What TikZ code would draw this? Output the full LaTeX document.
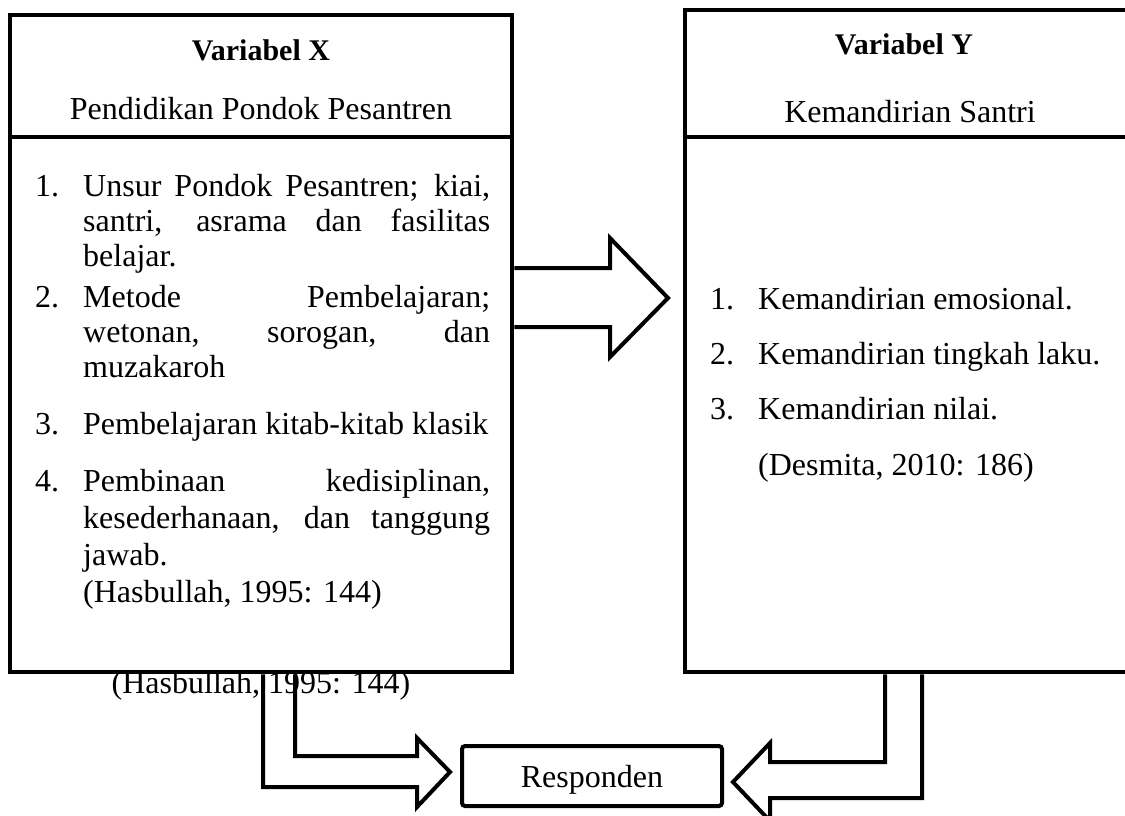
\documentclass[tikz,border=0pt]{standalone}
\usepackage{fontspec}
\setmainfont{Liberation Serif}
\newcommand{\jl}[1]{\makebox[407pt][s]{#1}}

\begin{document}
\begin{tikzpicture}[x=1pt,y=-1pt]
    % Style definitions
    \tikzset{box/.style={rectangle, draw=black, line width=4.5pt, fill=white, inner sep=0pt},
             txt/.style={anchor=base west, inner sep=0pt, font=\fontsize{32}{38}\selectfont},
             head/.style={anchor=base, inner sep=0pt, font=\fontsize{30}{36}\selectfont\bfseries}}
    \tikzstyle{blockarrow} = [draw=black, line width=4pt, line join=miter]
    \useasboundingbox (0,0) rectangle (1125,816);

    % Citation under the left box (partly hidden by it)
    \node (citeB) [txt, anchor=base] at (261,693) {(Hasbullah, 1995: 144)};

    % Main boxes
    \node (boxX) [box, minimum width=502pt, minimum height=657pt] at (261,343.5) {};
    \node (boxY) [box, minimum width=444pt, minimum height=662pt] at (907,341) {};
    \draw [line width=4.5pt] (boxX.west |- 0,137) -- (boxX.east |- 0,137);
    \draw [line width=4.5pt] (boxY.west |- 0,137) -- (boxY.east |- 0,137);

    % Headers
    \node (varX) [head] at (261,61) {Variabel X};
    \node (subX) [txt, anchor=base] at (261,119) {Pendidikan Pondok Pesantren};
    \node (varY) [head] at (904,55) {Variabel Y};
    \node (subY) [txt, anchor=base] at (910,122) {Kemandirian Santri};

    % Indicators of X
    \node (nx1) [txt] at (35,196) {1.};
    \node (x1a) [txt] at (83,196) {\jl{Unsur Pondok Pesantren; kiai,}};
    \node (x1b) [txt] at (83,231) {\jl{santri, asrama dan fasilitas}};
    \node (x1c) [txt] at (83,266) {belajar.};
    \node (nx2) [txt] at (35,307) {2.};
    \node (x2a) [txt] at (83,307) {\jl{Metode Pembelajaran;}};
    \node (x2b) [txt] at (83,342) {\jl{wetonan, sorogan, dan}};
    \node (x2c) [txt] at (83,377) {muzakaroh};
    \node (nx3) [txt] at (35,434) {3.};
    \node (x3a) [txt] at (83,434) {Pembelajaran kitab-kitab klasik};
    \node (nx4) [txt] at (35,491) {4.};
    \node (x4a) [txt] at (83,491) {\jl{Pembinaan kedisiplinan,}};
    \node (x4b) [txt] at (83,528) {\jl{kesederhanaan, dan tanggung}};
    \node (x4c) [txt] at (83,565) {jawab.};
    \node (citeX) [txt] at (83,602) {(Hasbullah, 1995: 144)};

    % Indicators of Y
    \node (ny1) [txt] at (710,309) {1.};
    \node (y1) [txt] at (758,309) {Kemandirian emosional.};
    \node (ny2) [txt] at (710,364) {2.};
    \node (y2) [txt] at (758,364) {Kemandirian tingkah laku.};
    \node (ny3) [txt] at (710,419) {3.};
    \node (y3) [txt] at (758,419) {Kemandirian nilai.};
    \node (citeY) [txt] at (758,475) {(Desmita, 2010: 186)};

    % Respondent box
    \node (resp) [box, rounded corners=3pt, line width=4pt, minimum width=260pt, minimum height=60pt,
                  text height=22pt, text depth=0pt, font=\fontsize{32}{38}\selectfont] at (592,776) {Responden};

    % Block arrows
    \draw [blockarrow] (boxX.east |- 0,268) -- (610,268) -- (610,238) -- (668,298)
          -- (610,357) -- (610,327) -- (boxX.east |- 0,327);
    \draw [blockarrow] (263,0 |- boxX.south) -- (263,787) -- (417,787) -- (417,807) -- (450,772)
          -- (417,738) -- (417,756) -- (295,756) -- (295,0 |- boxX.south);
    \draw [blockarrow] (885,0 |- boxY.south) -- (885,762) -- (770,762) -- (770,743) -- (733,782)
          -- (770,821) -- (770,798) -- (922,798) -- (922,0 |- boxY.south);
\end{tikzpicture}
\end{document}
